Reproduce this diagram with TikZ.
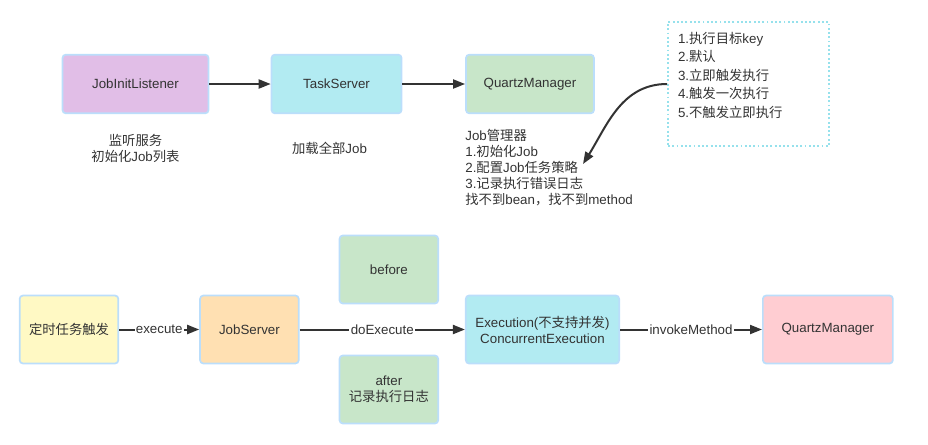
\documentclass[tikz,border=0pt]{standalone}
\usepackage{fontspec}
\setmainfont{Liberation Sans}
\newfontfamily\cjk{Noto Sans CJK SC}
\newcommand\zh[1]{{\cjk #1}}
\newcommand\qzfont{\fontsize{10pt}{12pt}\selectfont}
\usetikzlibrary{arrows.meta,positioning,calc}
\definecolor{qzedge}{RGB}{187,222,251}
\definecolor{qzink}{RGB}{51,51,51}
\definecolor{qzline}{RGB}{51,51,51}
\definecolor{qzpurple}{RGB}{225,190,231}
\definecolor{qzcyan}{RGB}{178,235,242}
\definecolor{qzgreen}{RGB}{200,230,201}
\definecolor{qzyellow}{RGB}{255,249,196}
\definecolor{qzorange}{RGB}{255,224,178}
\definecolor{qzpink}{RGB}{255,205,210}
\definecolor{qzdot}{RGB}{150,225,236}
\tikzset{
  qzbox/.style={
    draw=qzedge, line width=1.3pt, rounded corners=2.5pt,
    align=center, inner sep=3pt, font=\qzfont, text=qzink
  },
  topbox/.style={qzbox, minimum height=44pt},
  lowbox/.style={qzbox, minimum width=74pt, minimum height=51pt},
  purplebox/.style={topbox, fill=qzpurple, minimum width=109.5pt},
  cyanbox/.style={topbox, fill=qzcyan, minimum width=97.5pt},
  greenbox/.style={topbox, fill=qzgreen, minimum width=96pt},
  yellowbox/.style={lowbox, fill=qzyellow},
  orangebox/.style={lowbox, fill=qzorange},
  stepgreen/.style={lowbox, fill=qzgreen},
  execbox/.style={lowbox, fill=qzcyan, minimum width=115pt},
  pinkbox/.style={lowbox, fill=qzpink, minimum width=97.5pt},
  arr/.style={-{Triangle[length=9pt,width=6.75pt]}, draw=qzline, line width=1.5pt},
  lbl/.style={fill=white, inner sep=1pt, font=\qzfont, text=qzink},
  note/.style={inner sep=0pt, font=\qzfont, text=qzink},
  memo/.style={
    draw=qzdot, line width=1.4pt, dash pattern=on 1.4pt off 1.8pt,
    align=left, text width=105.75pt, inner xsep=7.5pt, minimum height=93pt,
    font=\fontsize{10pt}{13.9pt}\selectfont, text=qzink
  }
}
\begin{document}
\begin{tikzpicture}[x=0.75pt, y=0.75pt]
  \useasboundingbox (0,0) rectangle (928,-444);
  % top row
  \node[purplebox] (jil) at (135.5,-84) {JobInitListener};
  \node[cyanbox, right=46pt of jil] (ts) {TaskServer};
  \node[greenbox, right=47pt of ts] (qm) {QuartzManager};
  \draw[arr] (jil) -- (ts);
  \draw[arr] (ts) -- (qm);
  \node[note, align=center] (jilnote) at ($(jil.south)+(0,-34.5)$)
    {\zh{监听服务}\\\zh{初始化}Job\zh{列表}};
  \node[note] (tsnote) at ($(ts.south)+(-7,-34)$) {\zh{加载全部}Job};
  \node[note, align=left, anchor=west] (qmnote) at ($(qm.south west)+(0,-53)$)
    {Job\zh{管理器}\\1.\zh{初始化}Job\\2.\zh{配置}Job\zh{任务策略}\\
     3.\zh{记录执行错误日志}\\\zh{找不到}bean\zh{，找不到}method};
  % trigger policy
  \node[memo] (memo) at (748.5,-84)
    {1.\zh{执行目标}key\\2.\zh{默认}\\3.\zh{立即触发执行}\\4.\zh{触发一次执行}\\
     5.\zh{不触发立即执行}\\\mbox{}};
  \coordinate (memotip) at (583,-164);
  \draw[arr] (memo.west) to[out=180, in=58] (memotip);
  % bottom row
  \node[yellowbox] (trig) at (69,-329.5) {\zh{定时任务触发}};
  \node[orangebox, right=60pt of trig] (js) {JobServer};
  \node[execbox, right=124pt of js] (exec) {Execution(\zh{不支持并发})\\ConcurrentExecution};
  \node[pinkbox, right=106.5pt of exec] (qm2) {QuartzManager};
  \node[stepgreen] (before) at ($(js.east)!0.54!(exec.west)+(0,60)$) {before};
  \node[stepgreen] (after) at ($(js.east)!0.54!(exec.west)+(0,-60)$) {after\\\zh{记录执行日志}};
  \draw[arr] (trig) -- node[lbl] {execute} (js);
  \draw[arr] (js) -- node[lbl] {doExecute} (exec);
  \draw[arr] (exec) -- node[lbl] {invokeMethod} (qm2);
\end{tikzpicture}
\end{document}
